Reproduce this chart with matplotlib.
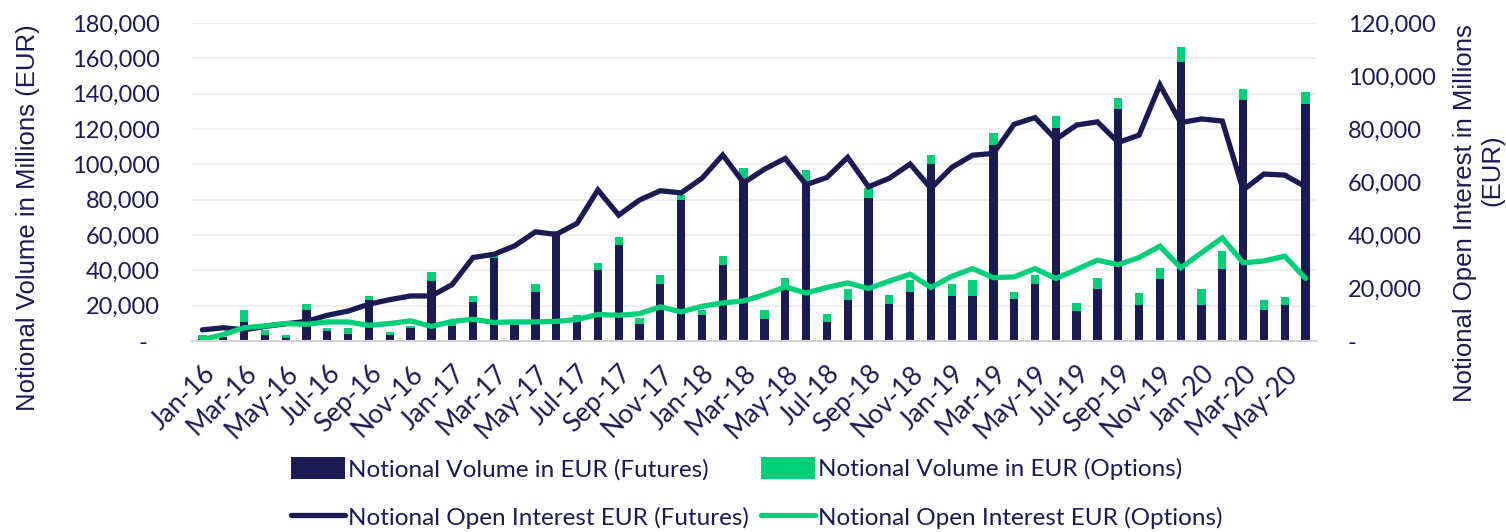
import numpy as np
import matplotlib.pyplot as plt
from matplotlib.ticker import FuncFormatter

# monthly categories Jan-16 .. Jun-20
months = ['Jan', 'Feb', 'Mar', 'Apr', 'May', 'Jun', 'Jul', 'Aug', 'Sep', 'Oct', 'Nov', 'Dec']
labels = [f'{m}-{y}' for y in range(16, 21) for m in months][:54]

# notional volume (EUR millions), left axis
vol_futures = [1000, 2000, 10800, 3600, 1700, 17400, 5500, 4200, 23400, 3200,
               7500, 34000, 8500, 22100, 47000, 9000, 27800, 61000, 11500, 40100,
               54600, 9800, 32100, 80000, 14600, 43300, 91100, 12700, 30300, 89600,
               10800, 23400, 81100, 21200, 27800, 100200, 25500, 25500, 111000, 24000,
               32500, 120500, 16800, 29700, 131200, 20200, 35000, 157700, 20200, 41000,
               136200, 17800, 20200, 133900]
vol_options = [2500, 500, 6600, 2400, 1500, 3400, 1900, 3200, 1900, 1700,
               1000, 5000, 3500, 3600, 1000, 1000, 4700, 1200, 3500, 4300,
               4000, 3400, 5200, 2600, 2800, 4700, 7000, 5100, 5100, 7200,
               4700, 6300, 5300, 4700, 6600, 4800, 7000, 8900, 6600, 3800,
               4800, 7000, 4800, 6200, 6300, 6700, 6600, 8700, 9300, 9900,
               6600, 5600, 4800, 7200]

# notional open interest (EUR millions), right axis
oi_futures = [4200, 5000, 4200, 5500, 6500, 7400, 9700, 11300, 13900, 15600,
              17000, 17000, 21300, 31500, 32700, 35900, 41200, 40200, 44400, 57000,
              47500, 53200, 56700, 55900, 61400, 70200, 59700, 64800, 68900, 59000,
              61700, 69300, 58200, 61400, 66800, 57600, 65500, 70100, 70800, 81800,
              84300, 76100, 81500, 82700, 74900, 77700, 96600, 82400, 83800, 83000,
              57000, 63000, 62600, 58200]
oi_options = [500, 2400, 5000, 5700, 6600, 6300, 7200, 7200, 5900, 6600,
              7600, 5500, 7400, 8200, 7000, 7200, 7200, 7400, 8100, 10000,
              9700, 10300, 12900, 11000, 13100, 14400, 15100, 17500, 20400, 18100,
              20200, 21900, 19800, 22600, 25200, 20200, 24400, 27300, 23900, 24200,
              27300, 23600, 27000, 30500, 28800, 31500, 35800, 27600, 33300, 38900,
              29500, 30200, 32000, 23600]

navy = '#1c1a52'
green = '#00cf7a'
tick_font = 'Lato'
label_font = 'Liberation Sans'

fig = plt.figure(figsize=(15.06, 5.32), dpi=100)
ax = fig.add_axes([192 / 1506, 1 - 341 / 532, 1124 / 1506, 318 / 532])
ax2 = ax.twinx()

x = np.arange(len(labels))
b1 = ax.bar(x, vol_futures, width=0.4, color=navy, zorder=2)
b2 = ax.bar(x, vol_options, width=0.4, bottom=vol_futures, color=green, zorder=2)
l1, = ax2.plot(x, oi_futures, color=navy, lw=3.8, solid_capstyle='round', solid_joinstyle='miter')
l2, = ax2.plot(x, oi_options, color=green, lw=3.8, solid_capstyle='round', solid_joinstyle='miter')

ax.set_xlim(-0.5, len(labels) - 0.5)
ax.set_ylim(0, 180000)
ax.set_yticks(np.arange(0, 180001, 20000))
ax2.set_ylim(0, 120000)
ax2.set_yticks(np.arange(0, 120001, 20000))
ax.yaxis.set_major_formatter(FuncFormatter(lambda v, p: '-  ' if v == 0 else f'{v:,.0f}'))
ax2.yaxis.set_major_formatter(FuncFormatter(lambda v, p: '-' if v == 0 else f'{v:,.0f}'))

ax.grid(axis='y', color='#eeeeee', lw=1.2, zorder=0)
ax.set_axisbelow(True)
for a in (ax, ax2):
    for s in ('top', 'left', 'right'):
        a.spines[s].set_visible(False)
    a.spines['bottom'].set_color('#d4d4d4')
    a.spines['bottom'].set_linewidth(1.5)
    a.tick_params(length=0, colors=navy, labelsize=17)
ax.tick_params(axis='y', pad=23)
ax2.tick_params(axis='y', pad=23)

ax.set_xticks(x[::2])
ax.set_xticklabels(labels[::2], rotation=45, ha='right', va='top', rotation_mode='anchor',
                   fontsize=19, family=tick_font)
ax.tick_params(axis='x', pad=14)
for t in ax.get_yticklabels() + ax2.get_yticklabels():
    t.set_family(tick_font)

fig.text(28 / 1506, 1 - 218 / 532, 'Notional Volume in Millions (EUR)', rotation=90,
         ha='center', va='center', fontsize=18.5, color=navy, family=label_font)
fig.text(1465 / 1506, 1 - 213 / 532, 'Notional Open Interest in Millions',
         rotation=90, ha='center', va='center', fontsize=18.5, color=navy, family=label_font)
fig.text(1492 / 1506, 1 - 170 / 532, '(EUR)',
         rotation=90, ha='center', va='center', fontsize=18.5, color=navy, family=label_font)

fig.legend([b1, l1, b2, l2],
           ['Notional Volume in EUR (Futures)', 'Notional Open Interest EUR (Futures)',
            'Notional Volume in EUR (Options)', 'Notional Open Interest EUR (Options)'],
           ncol=2, loc='center', bbox_to_anchor=(757 / 1506, 1 - 493 / 532),
           frameon=False, handlelength=2.2, handleheight=1.0, handletextpad=0.15,
           columnspacing=0.5, labelspacing=1.05, labelcolor=navy,
           prop={'family': tick_font, 'size': 17.5})

fig.savefig('out.png', dpi=100)
